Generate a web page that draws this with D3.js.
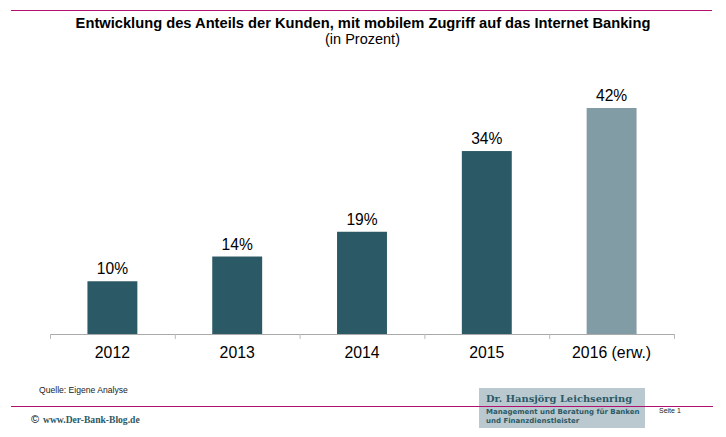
<!DOCTYPE html>
<html>
<head>
<meta charset="utf-8">
<script src="https://cdn.jsdelivr.net/npm/d3@7"></script>
<style>
  html, body { margin: 0; padding: 0; background: #fff; }
  svg { display: block; }
  text { font-family: "Liberation Sans", Arial, sans-serif; fill: #000; }
</style>
</head>
<body>
<script>
var years = ["2012", "2013", "2014", "2015", "2016 (erw.)"];
// bar heights, labels are the rounded percent
var shares = [9.8, 14.4, 19, 34, 42];
var barColors = ["#2c5966", "#2c5966", "#2c5966", "#2c5966", "#829ca5"];
var titleLines = ["Entwicklung des Anteils der Kunden, mit mobilem Zugriff auf das Internet Banking", "(in Prozent)"];
var logoLines = ["Dr. Hansjörg Leichsenring", "Management und Beratung für Banken", "und Finanzdienstleister"];

var width = 726, height = 437;
var magenta = "#b0106e";

var svg = d3.select("body").append("svg")
  .attr("width", width)
  .attr("height", height);

var x = d3.scaleBand().domain(years).range([50, 674]).paddingInner(0.6).paddingOuter(0.3);
var y = d3.scaleLinear().domain([0, 42]).range([334, 108]);

// header
svg.append("line").attr("x1", 11).attr("x2", 712).attr("y1", 10.5).attr("y2", 10.5)
  .attr("stroke", magenta).attr("stroke-width", 1);
svg.append("text").attr("x", 363).attr("y", 28).attr("text-anchor", "middle")
  .style("font-size", "14.7px").style("font-weight", "bold").text(titleLines[0]);
svg.append("text").attr("x", 362.5).attr("y", 44).attr("text-anchor", "middle")
  .style("font-size", "14.5px").text(titleLines[1]);

// bars
svg.selectAll(".bar").data(years).enter().append("rect")
  .attr("class", "bar")
  .attr("x", function(d) { return x(d); })
  .attr("width", x.bandwidth())
  .attr("y", function(d, i) { return y(shares[i]); })
  .attr("height", function(d, i) { return y(0) - y(shares[i]); })
  .attr("fill", function(d, i) { return barColors[i]; });

svg.selectAll(".bar-label").data(years).enter().append("text")
  .attr("class", "bar-label")
  .attr("x", function(d) { return x(d) + x.bandwidth() / 2; })
  .attr("y", function(d, i) { return y(shares[i]) - 7; })
  .attr("text-anchor", "middle")
  .style("font-size", "15.6px")
  .text(function(d, i) { return Math.round(shares[i]) + "%"; });

// x axis, ticks sit between the categories
var axis = svg.append("g").attr("class", "axis-x");
var step = x.step();
axis.append("line").attr("x1", 50).attr("x2", 674).attr("y1", 334.5).attr("y2", 334.5)
  .attr("stroke", "#aaa");
axis.selectAll(".tick-mark").data(d3.range(years.length + 1)).enter().append("line")
  .attr("class", "tick-mark")
  .attr("x1", function(i) { return 50.5 + i * step; })
  .attr("x2", function(i) { return 50.5 + i * step; })
  .attr("y1", 334).attr("y2", 339)
  .attr("stroke", "#bbb");
axis.selectAll(".year").data(years).enter().append("text")
  .attr("class", "year")
  .attr("x", function(d) { return x(d) + x.bandwidth() / 2; })
  .attr("y", 358)
  .attr("text-anchor", "middle")
  .style("font-size", "15.8px")
  .text(function(d) { return d; });

// footer
svg.append("text").attr("x", 39).attr("y", 393)
  .style("font-size", "8.6px").style("fill", "#222").text("Quelle: Eigene Analyse");
svg.append("rect").attr("x", 479).attr("y", 388).attr("width", 166).attr("height", 40).attr("fill", "#b9c9cf");
svg.append("line").attr("x1", 11).attr("x2", 713).attr("y1", 406.5).attr("y2", 406.5)
  .attr("stroke", magenta).attr("stroke-width", 1);
svg.append("text").attr("x", 31).attr("y", 423)
  .style("font-size", "11px").text("©");
svg.append("text").attr("x", 43).attr("y", 423)
  .style("font-family", "'Liberation Serif', serif").style("font-size", "9.6px").style("font-weight", "bold")
  .style("fill", "#2c5966").text("www.Der-Bank-Blog.de");
svg.append("text").attr("x", 486).attr("y", 402)
  .style("font-family", "'DejaVu Serif', serif").style("font-size", "9.9px").style("font-weight", "bold")
  .style("fill", "#2c5966").text(logoLines[0]);
svg.append("text").attr("x", 486).attr("y", 414)
  .style("font-family", "'DejaVu Sans', sans-serif").style("font-size", "7px").style("font-weight", "bold")
  .style("fill", "#2c5966").text(logoLines[1]);
svg.append("text").attr("x", 486).attr("y", 423)
  .style("font-family", "'DejaVu Sans', sans-serif").style("font-size", "7px").style("font-weight", "bold")
  .style("fill", "#2c5966").text(logoLines[2]);
svg.append("text").attr("x", 659).attr("y", 413)
  .style("font-size", "7px").style("fill", "#222").text("Seite 1");
</script>
</body>
</html>
